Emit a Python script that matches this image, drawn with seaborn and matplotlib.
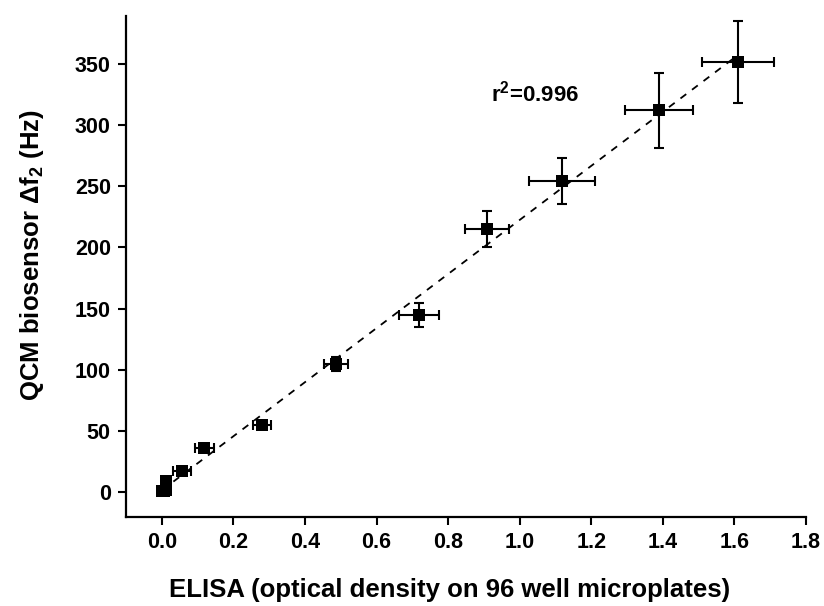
import numpy as np
import pandas as pd
import matplotlib
matplotlib.use("Agg")
import matplotlib.pyplot as plt
import seaborn as sns

# Data
elisa_od = [0.0, 0.005, 0.012, 0.012, 0.056, 0.119, 0.279, 0.487, 0.719, 0.909, 1.119, 1.389, 1.61]
qcm_df2 = [0.5, 1.0, 1.5, 8.5, 16.9, 35.6, 54.8, 104.7, 144.8, 215.0, 254.5, 312.0, 352.0]
elisa_err = [0.005, 0.005, 0.005, 0.005, 0.025, 0.027, 0.025, 0.033, 0.057, 0.062, 0.092, 0.095, 0.10]
qcm_err = [1.0, 1.0, 1.0, 2.0, 2.0, 3.0, 3.0, 6.0, 10.0, 15.0, 19.0, 31.0, 33.5]
r2_label = "0.996"
x_ticks = [0.0, 0.2, 0.4, 0.6, 0.8, 1.0, 1.2, 1.4, 1.6, 1.8]
y_ticks = [0, 50, 100, 150, 200, 250, 300, 350]

df = pd.DataFrame({"x": elisa_od, "y": qcm_df2, "xerr": elisa_err, "yerr": qcm_err})

sns.set_theme(style="ticks")
plt.rcParams["font.family"] = ["Liberation Sans", "DejaVu Sans"]
plt.rcParams["font.weight"] = "bold"
plt.rcParams["text.color"] = "black"
plt.rcParams["axes.labelcolor"] = "black"
plt.rcParams["xtick.color"] = "black"
plt.rcParams["ytick.color"] = "black"
plt.rcParams["mathtext.fontset"] = "custom"
plt.rcParams["mathtext.rm"] = "Liberation Sans:bold"
plt.rcParams["mathtext.bf"] = "Liberation Sans:bold"
plt.rcParams["mathtext.it"] = "Liberation Sans:bold"
plt.rcParams["mathtext.default"] = "bf"

fig = plt.figure(figsize=(8.24, 6.06), dpi=100)
ax = fig.add_axes([0.153, 0.147, 0.825, 0.827])

sns.regplot(data=df, x="x", y="y", scatter=False, ci=None, color="black", ax=ax,
            line_kws=dict(ls=(0, (4, 4)), lw=1.3, zorder=1))
ax.errorbar(df["x"], df["y"], xerr=df["xerr"], yerr=df["yerr"], fmt="none",
            ecolor="black", elinewidth=1.5, capsize=3.5, capthick=1.5, zorder=2)
sns.scatterplot(data=df, x="x", y="y", marker="s", s=75, color="black",
                edgecolor="black", linewidth=0, ax=ax, zorder=3)

ax.text(0.92, 319, "r$^{\\mathbf{2}}$=" + r2_label, fontsize=16, fontweight="bold",
        ha="left", va="baseline", color="black")

ax.set_xlim(-0.1, 1.8)
ax.set_ylim(-20.5, 389.5)
ax.set_xticks(x_ticks)
ax.set_xticklabels([f"{t:.1f}" for t in x_ticks])
ax.set_yticks(y_ticks)
ax.set_yticklabels([str(t) for t in y_ticks])
ax.tick_params(axis="both", direction="out", length=6, width=1.5, labelsize=15.5, pad=5,
               colors="black")
for lab in ax.get_xticklabels() + ax.get_yticklabels():
    lab.set_fontweight("bold")

ax.set_xlabel("ELISA (optical density on 96 well microplates)", fontsize=18.5,
              fontweight="bold", color="black")
ax.set_ylabel("QCM biosensor \u0394f$_{\\mathbf{2}}$ (Hz)", fontsize=18.5,
              fontweight="bold", color="black")
ax.xaxis.set_label_coords(0.476, -0.122)
ax.yaxis.set_label_coords(-0.118, 0.523)

sns.despine(ax=ax)
for s in ["left", "bottom"]:
    ax.spines[s].set_linewidth(1.6)
    ax.spines[s].set_color("black")

fig.savefig("out.png", dpi=100, facecolor="white")
